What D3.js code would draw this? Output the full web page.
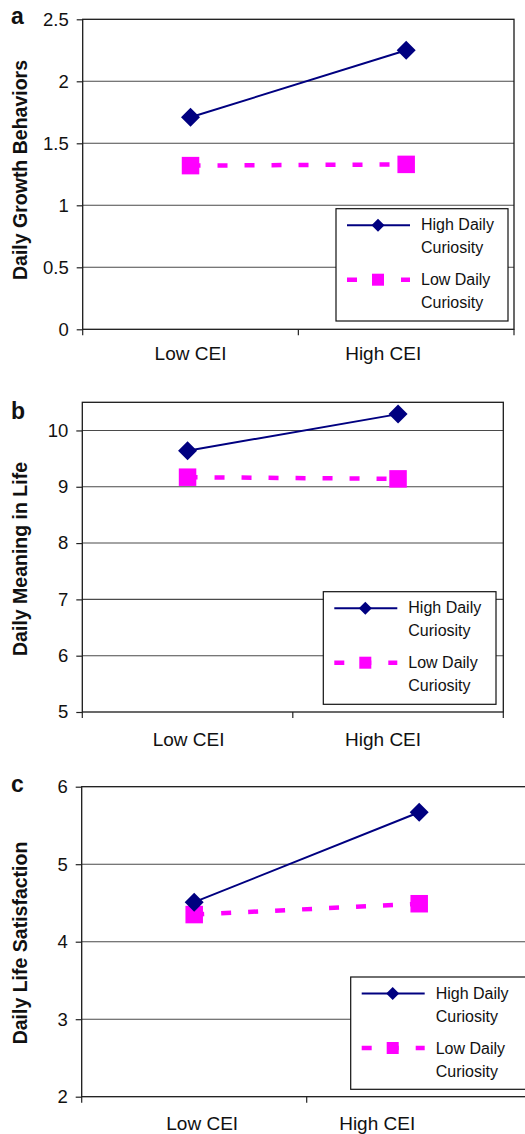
<!DOCTYPE html>
<html><head><meta charset="utf-8">
<script src="https://cdn.jsdelivr.net/npm/d3@7"></script>
<style>html,body{margin:0;padding:0;background:#fff;}svg{display:block;font-family:"Liberation Sans",Arial,sans-serif;}</style>
</head><body>
<svg id="chart" width="525" height="1134"></svg>
<script>
// ---- data ----
const categories = ["Low CEI", "High CEI"];
const legendHigh = ["High Daily", "Curiosity"];
const legendLow = ["Low Daily", "Curiosity"];

const growthHigh = [1.71, 2.25];
const growthLow = [1.32, 1.33];
const growthTicks = [0, 0.5, 1, 1.5, 2, 2.5];
const growthDomain = [0, 2.5];

const meaningHigh = [9.64, 10.29];
const meaningLow = [9.17, 9.14];
const meaningTicks = [5, 6, 7, 8, 9, 10];
const meaningDomain = [5, 10.5];

const satisfactionHigh = [4.51, 5.67];
const satisfactionLow = [4.35, 4.49];
const satisfactionTicks = [2, 3, 4, 5, 6];
const satisfactionDomain = [2, 6];

const panelLetters = ["a", "b", "c"];
const yTitles = ["Daily Growth Behaviors", "Daily Meaning in Life", "Daily Life Satisfaction"];

// ---- layout (positions/styles only) ----
const layouts = [
  {left: 82.7, right: 514, top: 19.3, bottom: 329.3, legend: {x: 336, y: 208.7, w: 172, h: 112.3},
   catBase: 359.5, catDx: [0, -23], titleY: 170, letterY: 24},
  {left: 82.3, right: 503.3, top: 402.3, bottom: 712, legend: {x: 323.3, y: 591.7, w: 172.7, h: 112.6},
   catBase: 746, catDx: [1, -15], titleY: 559, letterY: 419},
  {left: 81.7, right: 531.7, top: 786.7, bottom: 1096.7, legend: {x: 350.7, y: 977, w: 200, h: 112.3},
   catBase: 1130, catDx: [8, -42], titleY: 943, letterY: 791.5}
];

const panels = [
  {high: growthHigh, low: growthLow, ticks: growthTicks, domain: growthDomain, tickFmt: d3.format("")},
  {high: meaningHigh, low: meaningLow, ticks: meaningTicks, domain: meaningDomain, tickFmt: d3.format("")},
  {high: satisfactionHigh, low: satisfactionLow, ticks: satisfactionTicks, domain: satisfactionDomain, tickFmt: d3.format("")}
];

const NAVY = "#000080", MAGENTA = "#FF00FF";
const svg = d3.select("#chart");

function diamond(g, x, y, r) {
  g.append("path").attr("d", `M${x},${y-r}L${x+r},${y}L${x},${y+r}L${x-r},${y}Z`).attr("fill", NAVY);
}
function square(g, x, y, s) {
  g.append("rect").attr("x", x - s/2).attr("y", y - s/2).attr("width", s).attr("height", s).attr("fill", MAGENTA);
}

panels.forEach((p, i) => {
  const L = layouts[i];
  const g = svg.append("g");
  const x = d3.scaleBand().domain(categories).range([L.left, L.right]).padding(0);
  const y = d3.scaleLinear().domain(p.domain).range([L.bottom, L.top]);
  const cx = c => x(c) + x.bandwidth() / 2;

  // gridlines
  g.selectAll(".grid").data(p.ticks.filter(t => t !== p.domain[0] && t !== p.domain[1]))
    .enter().append("line")
    .attr("x1", L.left).attr("x2", L.right)
    .attr("y1", d => y(d)).attr("y2", d => y(d))
    .attr("stroke", "#4a4a4a").attr("stroke-width", 1.1);

  // plot border
  g.append("rect").attr("x", L.left).attr("y", L.top)
    .attr("width", L.right - L.left).attr("height", L.bottom - L.top)
    .attr("fill", "none").attr("stroke", "#1a1a1a").attr("stroke-width", 1.3);

  // y axis ticks + labels
  const yAxis = d3.axisLeft(y).tickValues(p.ticks).tickSize(6).tickPadding(8).tickFormat(p.tickFmt);
  const ya = g.append("g").attr("transform", `translate(${L.left},0)`).call(yAxis);
  ya.select(".domain").remove();
  ya.selectAll(".tick line").attr("stroke", "#222").attr("stroke-width", 1.2);
  ya.selectAll(".tick text").attr("font-size", 18.5).attr("fill", "#111")
    .attr("font-family", "'Liberation Sans', Arial, sans-serif");

  // x axis ticks at band boundaries
  const bounds = [L.left].concat(categories.map(c => x(c) + x.bandwidth()));
  g.selectAll(".xt").data(bounds).enter().append("line")
    .attr("x1", d => d).attr("x2", d => d)
    .attr("y1", L.bottom).attr("y2", L.bottom + 6)
    .attr("stroke", "#222").attr("stroke-width", 1.2);

  // category labels
  g.selectAll(".cat").data(categories).enter().append("text")
    .attr("x", (d, j) => cx(d) + L.catDx[j]).attr("y", L.catBase)
    .attr("text-anchor", "middle").attr("font-size", 19).attr("fill", "#111")
    .text(d => d);

  // y title
  g.append("text")
    .attr("transform", `translate(27,${L.titleY}) rotate(-90)`)
    .attr("text-anchor", "middle").attr("font-size", 19.5).attr("font-weight", "bold").attr("fill", "#111")
    .text(yTitles[i]);

  // panel letter
  g.append("text").attr("x", 11).attr("y", L.letterY)
    .attr("font-size", 23).attr("font-weight", "bold").attr("fill", "#111")
    .text(panelLetters[i]);

  // low series (dashed magenta)
  const lowPts = categories.map((c, j) => [cx(c), y(p.low[j])]);
  g.append("path").attr("d", d3.line()(lowPts))
    .attr("fill", "none").attr("stroke", MAGENTA).attr("stroke-width", 4.5)
    .attr("stroke-dasharray", "10,17");
  lowPts.forEach(pt => square(g, pt[0], pt[1], 17.5));

  // high series (solid navy)
  const highPts = categories.map((c, j) => [cx(c), y(p.high[j])]);
  g.append("path").attr("d", d3.line()(highPts))
    .attr("fill", "none").attr("stroke", NAVY).attr("stroke-width", 2);
  highPts.forEach(pt => diamond(g, pt[0], pt[1], 9.5));

  // legend
  const lg = L.legend;
  const leg = g.append("g").attr("transform", `translate(${lg.x},${lg.y})`);
  leg.append("rect").attr("width", lg.w).attr("height", lg.h)
    .attr("fill", "#fff").attr("stroke", "#111").attr("stroke-width", 1.2);
  leg.append("line").attr("x1", 11).attr("x2", 74).attr("y1", 16.5).attr("y2", 16.5)
    .attr("stroke", NAVY).attr("stroke-width", 2);
  diamond(leg, 42, 16.5, 6.5);
  leg.append("line").attr("x1", 11).attr("x2", 74).attr("y1", 71).attr("y2", 71)
    .attr("stroke", MAGENTA).attr("stroke-width", 4.5).attr("stroke-dasharray", "10,17");
  square(leg, 42, 71, 12);
  const lt = leg.append("g").attr("font-size", 16).attr("fill", "#111");
  legendHigh.forEach((t, k) => lt.append("text").attr("x", 85).attr("y", 21.5 + k * 23).text(t));
  legendLow.forEach((t, k) => lt.append("text").attr("x", 85).attr("y", 76.5 + k * 23).text(t));
});
</script>
</body></html>
